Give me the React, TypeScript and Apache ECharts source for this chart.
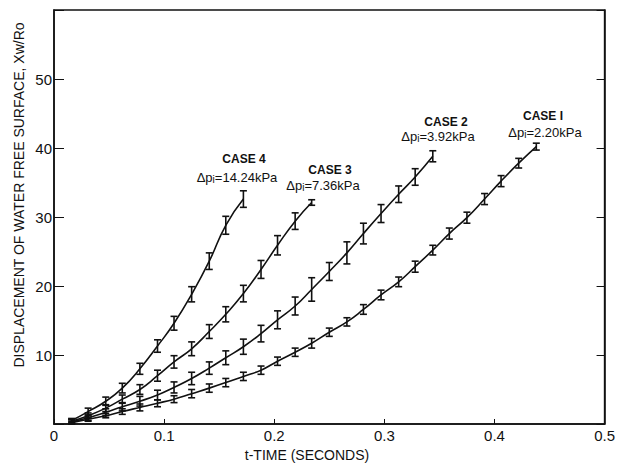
import React, { useEffect, useRef } from "react";
import * as echarts from "echarts";

// time of each frame (s)
const times = [0.016, 0.031, 0.047, 0.062, 0.078, 0.094, 0.109, 0.125, 0.141, 0.156, 0.172, 0.188, 0.203, 0.219, 0.234, 0.25, 0.266, 0.281, 0.297, 0.313, 0.328, 0.344, 0.359, 0.375, 0.391, 0.406, 0.422, 0.438];

const case4 = [0.5, 1.8, 3.3, 5.2, 8.0, 11.3, 14.6, 18.8, 23.6, 28.8, 32.6];
const case4Err = [0.3, 0.5, 0.6, 0.7, 0.8, 0.9, 1.0, 1.1, 1.2, 1.3, 1.2];
const case3 = [0.4, 1.2, 2.3, 3.6, 5.0, 7.0, 9.0, 10.9, 13.4, 15.9, 18.9, 22.4, 25.9, 29.4, 32.1];
const case3Err = [0.3, 0.4, 0.5, 0.6, 0.7, 0.8, 0.9, 1.0, 1.0, 1.1, 1.2, 1.3, 1.4, 1.2, 0.4];
const case2 = [0.3, 0.9, 1.7, 2.5, 3.3, 4.2, 5.3, 6.6, 8.1, 9.6, 11.2, 13.1, 15.1, 17.1, 19.5, 22.1, 24.8, 27.6, 30.5, 33.3, 35.8, 38.8];
const case2Err = [0.3, 0.4, 0.5, 0.6, 0.7, 0.7, 0.8, 0.9, 0.9, 1.0, 1.1, 1.2, 1.3, 1.3, 1.7, 1.3, 1.6, 1.5, 1.3, 1.2, 1.2, 0.8];
const case1 = [0.2, 0.7, 1.2, 1.8, 2.4, 3.0, 3.6, 4.4, 5.2, 6.0, 6.9, 7.8, 9.1, 10.4, 11.7, 13.3, 14.8, 16.6, 18.7, 20.6, 22.8, 25.2, 27.6, 29.9, 32.6, 35.2, 37.8, 40.2];
const case1Err = [0.2, 0.3, 0.3, 0.4, 0.5, 0.5, 0.5, 0.6, 0.6, 0.6, 0.6, 0.6, 0.6, 0.6, 0.7, 0.6, 0.6, 0.7, 0.7, 0.7, 0.8, 0.7, 0.8, 0.8, 0.8, 0.8, 0.7, 0.5];

const xTickValues = [0, 0.1, 0.2, 0.3, 0.4, 0.5];
const yTickValues = [10, 20, 30, 40, 50];

const FONT = "Liberation Sans";

const cases = [
  { name: "CASE 1", vals: case1, errs: case1Err },
  { name: "CASE 2", vals: case2, errs: case2Err },
  { name: "CASE 3", vals: case3, errs: case3Err },
  { name: "CASE 4", vals: case4, errs: case4Err },
];

const labels = [
  { title: "CASE 4", dp: "14.24", x: 244, y: 159, x2: 237, y2: 177 },
  { title: "CASE 3", dp: "7.36", x: 330, y: 170, x2: 323, y2: 185 },
  { title: "CASE 2", dp: "3.92", x: 446, y: 122, x2: 438, y2: 136 },
  { title: "CASE I", dp: "2.20", x: 543, y: 116, x2: 545, y2: 132 },
];

function errRender(params: any, api: any) {
  const x = api.value(0);
  const y = api.value(1);
  const e = api.value(2);
  const top = api.coord([x, y + e]);
  const bot = api.coord([x, y - e]);
  const w = 3.5;
  const st = { stroke: "#111", lineWidth: 1.6 };
  return {
    type: "group",
    children: [
      { type: "line", shape: { x1: top[0], y1: top[1], x2: bot[0], y2: bot[1] }, style: st },
      { type: "line", shape: { x1: top[0] - w, y1: top[1], x2: top[0] + w, y2: top[1] }, style: st },
      { type: "line", shape: { x1: bot[0] - w, y1: bot[1], x2: bot[0] + w, y2: bot[1] }, style: st },
    ],
  };
}

export default function App() {
  const ref = useRef<HTMLDivElement>(null);
  useEffect(() => {
    const chart = echarts.init(ref.current!, null, { renderer: "svg" });
    const series: any[] = [];
    cases.forEach((c) => {
      const pts = c.vals.map((v, i) => [times[i], v]);
      series.push({
        type: "line",
        name: c.name,
        data: pts,
        smooth: 0.5,
        showSymbol: false,
        symbol: "none",
        lineStyle: { color: "#111", width: 1.6 },
        silent: true,
      });
      series.push({
        type: "custom",
        name: c.name + " err",
        renderItem: errRender,
        data: c.vals.map((v, i) => [times[i], v, c.errs[i]]),
        encode: { x: 0, y: 1 },
        silent: true,
      });
    });

    const graphic: any[] = [];
    labels.forEach((l) => {
      graphic.push({
        type: "text",
        x: l.x,
        y: l.y,
        style: {
          text: l.title,
          font: `bold 12px "${FONT}"`,
          fill: "#111",
          align: "center",
          verticalAlign: "middle",
        },
      });
      graphic.push({
        type: "text",
        x: l.x2,
        y: l.y2,
        style: {
          text: `{n|Δp}{s|i}{n|=${l.dp}kPa}`,
          fill: "#111",
          align: "center",
          verticalAlign: "middle",
          rich: {
            n: { fontFamily: FONT, fontSize: 13, lineHeight: 14, fill: "#111" },
            s: { fontFamily: FONT, fontSize: 10, lineHeight: 6, verticalAlign: "bottom", fill: "#111" },
          },
        },
      });
    });
    graphic.push({
      type: "text",
      x: 19,
      y: 195,
      rotation: Math.PI / 2,
      style: {
        text: "DISPLACEMENT OF WATER FREE SURFACE, Xw/Ro",
        font: `14px "${FONT}"`,
        fill: "#111",
        align: "center",
        verticalAlign: "middle",
      },
    });
    graphic.push({
      type: "text",
      x: 307,
      y: 455,
      style: {
        text: "t-TIME (SECONDS)",
        font: `14px "${FONT}"`,
        fill: "#111",
        align: "center",
        verticalAlign: "middle",
      },
    });

    chart.setOption({
      animation: false,
      backgroundColor: "#fff",
      grid: {
        left: 54,
        right: 12,
        top: 10,
        bottom: 45,
        show: true,
        borderColor: "#111",
        borderWidth: 1.5,
      },
      xAxis: {
        type: "value",
        min: 0,
        max: 0.5,
        interval: 0.1,
        axisLine: { show: true, lineStyle: { color: "#111", width: 1.5 } },
        axisTick: { show: true, inside: true, length: 5, lineStyle: { color: "#111" } },
        splitLine: { show: false },
        axisLabel: {
          color: "#111",
          fontFamily: FONT,
          fontSize: 15,
          margin: 4,
          formatter: (v: number) => {
            const m = xTickValues.find((t) => Math.abs(t - v) < 1e-6);
            if (m === undefined) return "";
            return m === 0 ? "0" : m.toFixed(1);
          },
        },
      },
      yAxis: [
        {
          type: "value",
          min: 0,
          max: 60,
          interval: 10,
          axisLine: { show: true, lineStyle: { color: "#111", width: 1.5 } },
          axisTick: { show: true, inside: true, length: 10, lineStyle: { color: "#111" } },
          splitLine: { show: false },
          axisLabel: {
            color: "#111",
            fontFamily: FONT,
            fontSize: 15,
            margin: 2,
            formatter: (v: number) => (yTickValues.includes(v) ? String(v) : ""),
          },
        },
        {
          type: "value",
          position: "right",
          min: 0,
          max: 60,
          interval: 10,
          axisLine: { show: true, lineStyle: { color: "#111", width: 1.5 } },
          axisTick: { show: true, inside: true, length: 8, lineStyle: { color: "#111" } },
          splitLine: { show: false },
          axisLabel: { show: false },
        },
      ],
      graphic,
      series,
    });
    return () => chart.dispose();
  }, []);
  return (
    <div
      ref={ref}
      style={{ position: "fixed", left: 0, top: 0, width: 618, height: 469, background: "#fff" }}
    />
  );
}
